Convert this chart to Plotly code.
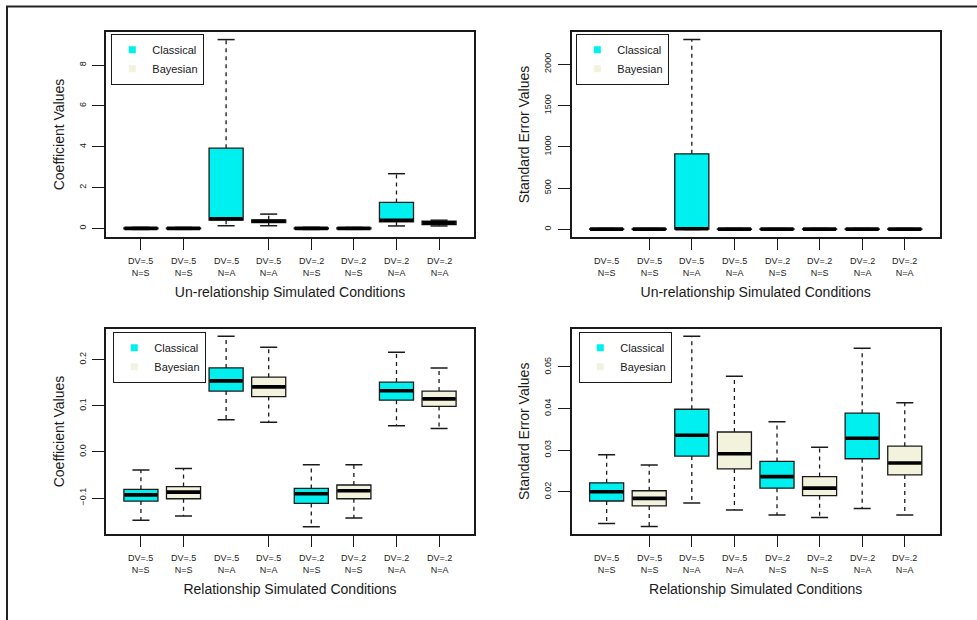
import plotly.graph_objects as go

# ---------------- data ----------------
condition_labels = ["DV=.5<br>N=S", "DV=.5<br>N=S", "DV=.5<br>N=A", "DV=.5<br>N=A",
                    "DV=.2<br>N=S", "DV=.2<br>N=S", "DV=.2<br>N=A", "DV=.2<br>N=A"]
positions = [1, 2, 3, 4, 5, 6, 7, 8]
method_names = ["Classical", "Bayesian"]   # odd positions = Classical, even = Bayesian

# Panel 1: Un-relationship, coefficient values
p1_low = [-0.05, -0.045, 0.13, 0.13, -0.05, -0.045, 0.12, 0.12]
p1_q1 = [-0.02, -0.02, 0.40, 0.28, -0.02, -0.02, 0.32, 0.18]
p1_med = [0.0, 0.0, 0.47, 0.35, 0.0, 0.0, 0.40, 0.27]
p1_q3 = [0.02, 0.02, 3.93, 0.42, 0.02, 0.02, 1.27, 0.35]
p1_high = [0.05, 0.045, 9.25, 0.70, 0.05, 0.045, 2.68, 0.40]

# Panel 2: Un-relationship, standard error values
p2_low = [0, 0, 0, 0, 0, 0, 0, 0]
p2_q1 = [1, 1, 3, 1, 1, 1, 1, 1]
p2_med = [3, 3, 8, 3, 3, 3, 3, 3]
p2_q3 = [6, 6, 915, 6, 6, 6, 6, 6]
p2_high = [12, 12, 2298, 12, 12, 12, 12, 12]

# Panel 3: Relationship, coefficient values
p3_low = [-0.148, -0.139, 0.070, 0.0645, -0.162, -0.143, 0.0565, 0.0507]
p3_q1 = [-0.1065, -0.1015, 0.132, 0.120, -0.1116, -0.1015, 0.1123, 0.0986]
p3_med = [-0.093, -0.087, 0.154, 0.141, -0.0906, -0.084, 0.1326, 0.115]
p3_q3 = [-0.081, -0.075, 0.182, 0.162, -0.079, -0.0717, 0.1514, 0.132]
p3_high = [-0.039, -0.036, 0.2506, 0.227, -0.0275, -0.0275, 0.216, 0.182]

# Panel 4: Relationship, standard error values
p4_low = [0.01238, 0.01167, 0.0173, 0.01563, 0.01444, 0.01381, 0.01595, 0.01444]
p4_q1 = [0.01778, 0.01659, 0.02857, 0.02548, 0.02087, 0.01905, 0.02794, 0.02405]
p4_med = [0.0200, 0.01841, 0.03357, 0.02913, 0.02365, 0.02087, 0.03286, 0.0269]
p4_q3 = [0.02214, 0.02024, 0.03984, 0.03437, 0.0273, 0.02365, 0.03889, 0.03095]
p4_high = [0.02889, 0.02643, 0.05738, 0.04778, 0.03683, 0.03071, 0.05452, 0.04143]

p1_yticks = [0, 2, 4, 6, 8]
p2_yticks = [0, 500, 1000, 1500, 2000]
p3_yticks = [-0.1, 0.0, 0.1, 0.2]
p4_yticks = [0.02, 0.03, 0.04, 0.05]

x_titles = ["Un-relationship Simulated Conditions", "Un-relationship Simulated Conditions",
            "Relationship Simulated Conditions", "Relationship Simulated Conditions"]
y_titles = ["Coefficient Values", "Standard Error Values",
            "Coefficient Values", "Standard Error Values"]

# ---------------- styling ----------------
W, H = 977, 620
FONT = "Liberation Sans, Arial, sans-serif"
INK = "#1a1a1a"
colors = {"Classical": "#00F0F0", "Bayesian": "#F3F2DC"}
LINE_EW = 1.4   # plotly's line-ew symbol spans 1.4 x marker size

panels = [
    dict(low=p1_low, q1=p1_q1, med=p1_med, q3=p1_q3, high=p1_high, yt=p1_yticks, fmt="d",
         xd=[106, 474], yd=[32, 237], leg=(111, 34), ticked=[1, 2, 4, 5, 6, 7, 8]),
    dict(low=p2_low, q1=p2_q1, med=p2_med, q3=p2_q3, high=p2_high, yt=p2_yticks, fmt="d",
         xd=[571.7, 939.7], yd=[32, 237], leg=(576, 34), ticked=[2, 3, 4, 5, 6, 7, 8]),
    dict(low=p3_low, q1=p3_q1, med=p3_med, q3=p3_q3, high=p3_high, yt=p3_yticks, fmt=".1f",
         xd=[106, 474], yd=[328.7, 534.3], leg=(113, 332), ticked=[1, 2, 4, 5, 6, 7, 8]),
    dict(low=p4_low, q1=p4_q1, med=p4_med, q3=p4_q3, high=p4_high, yt=p4_yticks, fmt=".2f",
         xd=[571.7, 939.7], yd=[328.7, 534], leg=(579, 332), ticked=[2, 3, 4, 5, 6, 7, 8]),
]

fig = go.Figure()
layout = dict(template="none", width=W, height=H, margin=dict(l=0, r=0, t=0, b=0, pad=0),
              paper_bgcolor="white", plot_bgcolor="white", showlegend=True,
              font=dict(family=FONT, color=INK), annotations=[], shapes=[])

xmin, xmax = 0.5, len(positions) + 0.5
xpad = 0.04 * (xmax - xmin)
BOX_W = 0.8

for i, p in enumerate(panels):
    n = "" if i == 0 else str(i + 1)
    xa, ya = "x" + n, "y" + n
    legname = "legend" + n
    px_per_unit = (p["xd"][1] - p["xd"][0]) / ((xmax + xpad) - (xmin - xpad))
    box_px = BOX_W * px_per_unit
    for m, meth in enumerate(method_names):
        idx = list(range(m, len(positions), 2))
        xs = [positions[k] for k in idx]
        q1 = [p["q1"][k] for k in idx]
        med = [p["med"][k] for k in idx]
        q3 = [p["q3"][k] for k in idx]
        lo = [p["low"][k] for k in idx]
        hi = [p["high"][k] for k in idx]
        # box body
        fig.add_trace(go.Box(x=xs, q1=q1, median=med, q3=q3, lowerfence=q1, upperfence=q3,
                             width=BOX_W, whiskerwidth=0, fillcolor=colors[meth],
                             line=dict(color=INK, width=1.3), boxpoints=False,
                             xaxis=xa, yaxis=ya, showlegend=False, hoverinfo="skip"))
        # dashed whiskers
        wx, wy = [], []
        for k in range(len(xs)):
            wx += [xs[k], xs[k], None, xs[k], xs[k], None]
            wy += [q3[k], hi[k], None, q1[k], lo[k], None]
        fig.add_trace(go.Scatter(x=wx, y=wy, mode="lines",
                                 line=dict(color=INK, width=1.3, dash="4px,4px"),
                                 xaxis=xa, yaxis=ya, showlegend=False, hoverinfo="skip"))
        # whisker caps (half the box width)
        fig.add_trace(go.Scatter(x=xs + xs, y=lo + hi, mode="markers",
                                 marker=dict(symbol="line-ew", size=0.5 * box_px / LINE_EW,
                                             line=dict(color=INK, width=1.5)),
                                 xaxis=xa, yaxis=ya, showlegend=False, hoverinfo="skip"))
        # thick median (full box width)
        fig.add_trace(go.Scatter(x=xs, y=med, mode="markers",
                                 marker=dict(symbol="line-ew", size=(box_px - 1) / LINE_EW,
                                             line=dict(color="#000", width=3.6)),
                                 xaxis=xa, yaxis=ya, showlegend=False, hoverinfo="skip"))
        # legend key
        fig.add_trace(go.Scatter(x=[None], y=[None], mode="markers", name=meth,
                                 marker=dict(symbol="square", size=7, color=colors[meth]),
                                 xaxis=xa, yaxis=ya, legend=legname, showlegend=True))

    ymin, ymax = min(p["low"]), max(p["high"])
    ypad = 0.04 * (ymax - ymin)
    xd = [p["xd"][0] / W, p["xd"][1] / W]
    yd = [1 - p["yd"][1] / H, 1 - p["yd"][0] / H]
    layout["xaxis" + n] = dict(domain=xd, range=[xmin - xpad, xmax + xpad], anchor=ya,
                               automargin=False,
                               tickvals=p["ticked"], ticks="outside", ticklen=11,
                               tickwidth=1.3, tickcolor=INK, showticklabels=False,
                               showgrid=False, zeroline=False, showline=True, mirror=True,
                               linecolor=INK, linewidth=1.5,
                               title=dict(text=x_titles[i], font=dict(size=14, color=INK),
                                          standoff=38))
    layout["yaxis" + n] = dict(domain=yd, range=[ymin - ypad, ymax + ypad], anchor=xa,
                               automargin=False,
                               tickvals=p["yt"], tickformat=p["fmt"], tickangle=-90,
                               ticks="outside", ticklen=12, tickwidth=1.3, tickcolor=INK,
                               tickfont=dict(size=9, color=INK), ticklabelstandoff=3,
                               showgrid=False, zeroline=False, showline=True, mirror=True,
                               linecolor=INK, linewidth=1.5,
                               title=dict(text=y_titles[i], font=dict(size=14, color=INK),
                                          standoff=10))
    layout[legname] = dict(x=p["leg"][0] / W, y=1 - p["leg"][1] / H, xanchor="left",
                           yanchor="top", bgcolor="white", bordercolor=INK, borderwidth=1.3,
                           font=dict(size=11, color=INK), tracegroupgap=0, itemwidth=30)
    # category labels under the axis
    dom_h = p["yd"][1] - p["yd"][0]
    for k, lab in enumerate(condition_labels):
        layout["annotations"].append(dict(
            x=positions[k], y=-30 / dom_h, xref=xa, yref=ya + " domain", text=lab,
            showarrow=False, xanchor="center", yanchor="middle",
            font=dict(size=9, color=INK, family=FONT)))

# outer frame (top and left edges visible)
layout["shapes"].append(dict(type="rect", xref="paper", yref="paper",
                             x0=7 / W, x1=1.2, y0=-0.2, y1=1 - 6.5 / H,
                             line=dict(color="#222", width=2)))

fig.update_layout(**layout)
fig.write_html("out.html", config={"displayModeBar": False},
               post_script="document.body.style.margin='0';document.body.style.overflow='hidden';")
